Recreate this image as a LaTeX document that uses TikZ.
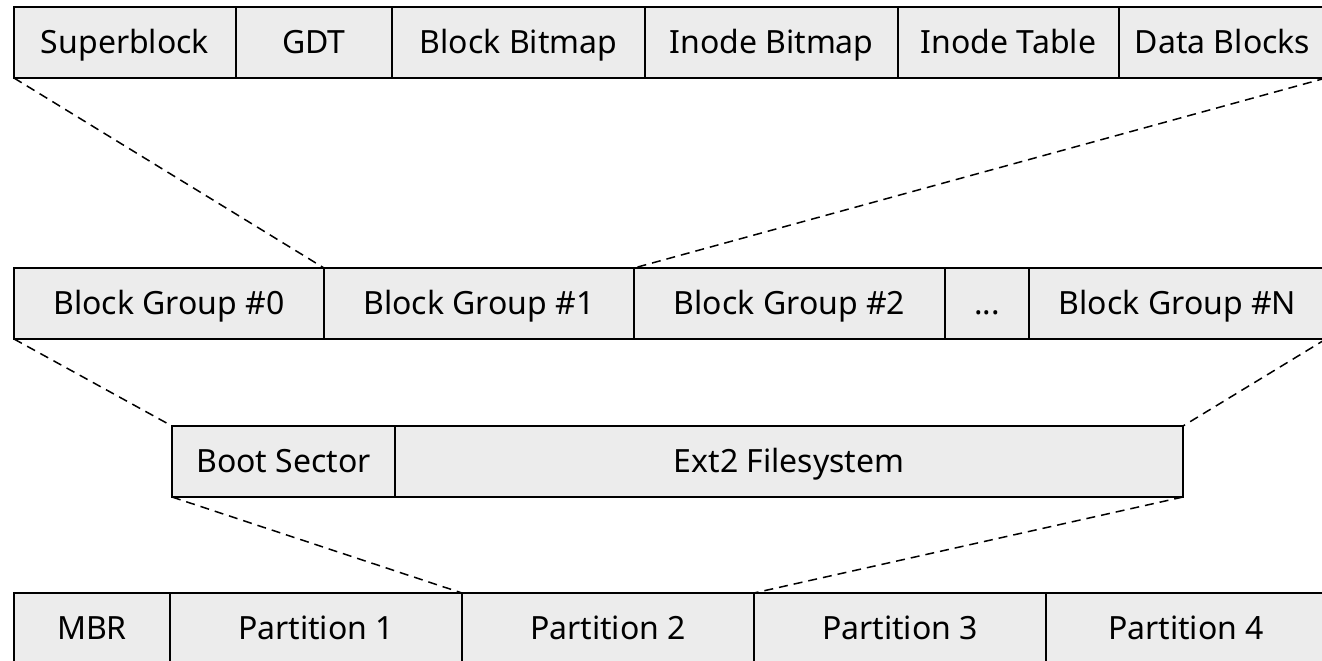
\documentclass[tikz,border=0pt]{standalone}
\usepackage{fontspec}
\setmainfont{Noto Sans}
\usetikzlibrary{calc}
\tikzset{cell/.style={rectangle, draw, fill=gray!15, line width=1.6pt, inner sep=0pt, outer sep=0pt, minimum height=71pt, text height=22pt, text depth=0pt, font=\fontsize{32}{38}\selectfont}}
\tikzset{zoomline/.style={line width=1.5pt, dash pattern=on 9pt off 6pt}}
\newcommand\gapdots{\textbf{...}}

\begin{document}
\begin{tikzpicture}[x=1pt,y=-1pt]
  \clip (0,0) rectangle (1322,661);
  % ext2 block group layout
  \foreach \n/\l/\r/\t in {
    sb/14/236/Superblock,
    gdt/236/392/GDT,
    bbm/392/645/Block Bitmap,
    ibm/645/898/Inode Bitmap,
    itab/898/1119/Inode Table,
    db/1119/1326/Data Blocks%
  } {
    \node[cell, minimum width={(\r-\l)*1pt}] (\n) at ({(\l+\r)/2}, 42.5) {\t};
  }
  % filesystem split into block groups
  \foreach \n/\l/\r/\t in {
    bg0/14/324/Block Group \#0,
    bg1/324/634/Block Group \#1,
    bg2/634/945/Block Group \#2,
    dots/945/1029/\gapdots,
    bgn/1029/1326/Block Group \#N%
  } {
    \node[cell, minimum width={(\r-\l)*1pt}] (\n) at ({(\l+\r)/2}, 303.5) {\t};
  }
  % partition contents
  \foreach \n/\l/\r/\t in {
    boot/172/395/Boot Sector,
    ext/395/1183/Ext2 Filesystem%
  } {
    \node[cell, minimum width={(\r-\l)*1pt}] (\n) at ({(\l+\r)/2}, 461.5) {\t};
  }
  % whole disk
  \foreach \n/\l/\r/\t in {
    mbr/14/170/MBR,
    p1/170/462/Partition 1,
    p2/462/754/Partition 2,
    p3/754/1046/Partition 3,
    p4/1046/1326/Partition 4%
  } {
    \node[cell, minimum width={(\r-\l)*1pt}] (\n) at ({(\l+\r)/2}, 628.5) {\t};
  }
  % zoom lines between levels
  \draw[zoomline] (sb.south west) -- (bg1.north west);
  \draw[zoomline] (db.south east) -- (bg2.north west);
  \draw[zoomline] (bg0.south west) -- (boot.north west);
  \draw[zoomline] (bgn.south east) -- (ext.north east);
  \draw[zoomline] (boot.south west) -- (p2.north west);
  \draw[zoomline] (ext.south east) -- (p3.north west);
\end{tikzpicture}
\end{document}
